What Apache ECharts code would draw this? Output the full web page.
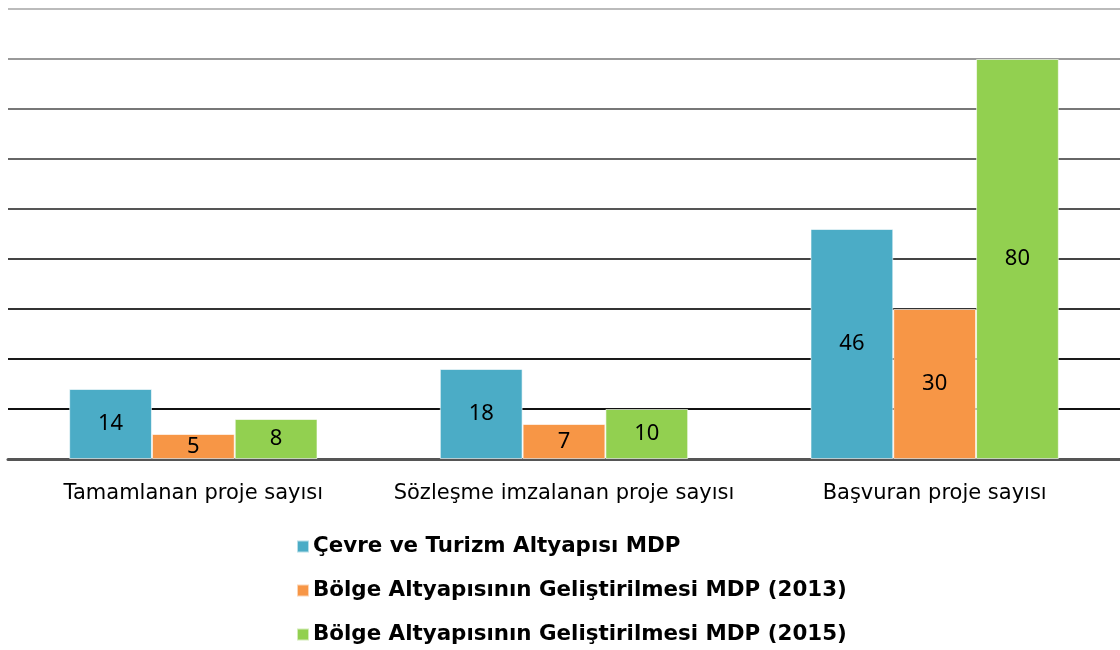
<!DOCTYPE html>
<html>
<head>
<meta charset="utf-8">
<script src="https://cdn.jsdelivr.net/npm/echarts@6/dist/echarts.min.js"></script>
<style>
    html, body { margin: 0; padding: 0; background: #fff; }
    #chart { width: 1120px; height: 650px; }
</style>
</head>
<body>
<div id="chart"></div>
<script>
let categories = ['Tamamlanan proje sayısı', 'Sözleşme imzalanan proje sayısı', 'Başvuran proje sayısı'],
    seriesNames = ['Çevre ve Turizm Altyapısı MDP', 'Bölge Altyapısının Geliştirilmesi MDP (2013)', 'Bölge Altyapısının Geliştirilmesi MDP (2015)'],
    cevreValues = [14, 18, 46],
    bolge2013Values = [5, 7, 30],
    bolge2015Values = [8, 10, 80],
    colors = ['#4BACC6', '#F79646', '#92D050'];

let myChart = echarts.init(document.getElementById('chart'));

// 每个系列的公共样式
function makeSeries(name, data, color) {
    return {
        name: name,
        type: 'bar',
        data: data,
        barGap: '0%',
        barCategoryGap: '33%',
        itemStyle: {
            color: color,
            borderColor: 'rgba(255,255,255,0.6)',
            borderWidth: 1
        },
        label: {
            show: true,
            position: 'inside',
            color: '#000',
            fontFamily: 'Noto Sans',
            fontSize: 22
        }
    };
}

let option = {
    animation: false,
    color: colors,
    grid: {
        left: 8,
        right: -5,
        top: 9,
        bottom: 191
    },
    legend: {
        orient: 'vertical',
        left: 296,
        top: 536,
        height: 140,
        padding: 0,
        itemWidth: 12,
        itemHeight: 12,
        itemGap: 23,
        icon: 'rect',
        textStyle: {
            fontFamily: 'DejaVu Sans',
            fontWeight: 'bold',
            fontSize: 21.4,
            color: '#000',
            padding: [0, 0, 0, -1]
        },
        data: seriesNames
    },
    xAxis: {
        type: 'category',
        data: categories,
        axisTick: { show: false },
        axisLine: {
            lineStyle: { color: '#555', width: 3 }
        },
        axisLabel: {
            interval: 0,
            margin: 24,
            color: '#000',
            fontFamily: 'DejaVu Sans',
            fontSize: 21
        }
    },
    yAxis: {
        type: 'value',
        min: 0,
        max: 90,
        interval: 10,
        axisLabel: { show: false },
        axisLine: { show: false },
        axisTick: { show: false },
        splitLine: {
            lineStyle: {
                width: 2,
                color: ['#555', '#111', '#1a1a1a', '#333', '#444', '#555', '#666', '#777', '#999', '#bbb']
            }
        }
    },
    series: [
        makeSeries(seriesNames[0], cevreValues, colors[0]),
        makeSeries(seriesNames[1], bolge2013Values, colors[1]),
        makeSeries(seriesNames[2], bolge2015Values, colors[2])
    ]
};

myChart.setOption(option);
</script>
</body>
</html>
